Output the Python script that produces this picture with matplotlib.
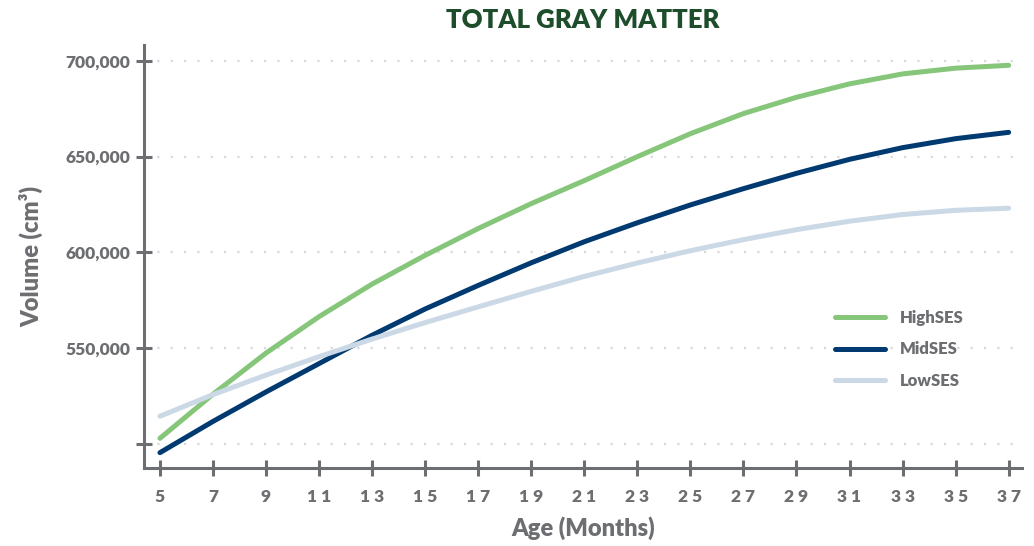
import matplotlib
matplotlib.use("Agg")
import matplotlib.pyplot as plt
from matplotlib.ticker import FuncFormatter

# age in months
months = [5, 7, 9, 11, 13, 15, 17, 19, 21, 23, 25, 27, 29, 31, 33, 35, 37]

high_ses = [503000, 526000, 547500, 566500, 583500, 598500, 612500, 625500, 637500,
            650000, 662000, 672500, 681000, 688000, 693200, 696200, 697700]
mid_ses = [495500, 511800, 527200, 542000, 556800, 570500, 582800, 594600, 605600,
           615500, 624800, 633300, 641300, 648600, 654700, 659400, 662700]
low_ses = [514500, 525800, 536000, 545600, 554800, 563400, 571600, 579700, 587500,
           594500, 600900, 606700, 611900, 616300, 619800, 622000, 623100]

series_names = ["HighSES", "MidSES", "LowSES"]
series_colors = ["#86c67a", "#003a70", "#cbd8e6"]

y_ticks = [500000, 550000, 600000, 650000, 700000]

gray = "#6d6e71"
plt.rcParams["font.family"] = ["Lato", "DejaVu Sans"]

fig = plt.figure(figsize=(10.34, 5.46), dpi=100)
ax = fig.add_axes([0.1393, 0.1429, 0.849, 0.7747])

for vals, name, col in zip([high_ses, mid_ses, low_ses], series_names, series_colors):
    ax.plot(months, vals, color=col, lw=3.6, solid_capstyle="round",
            solid_joinstyle="round", label=name, zorder=3)

ax.set_xlim(4.4, 37.5)
ax.set_ylim(487500, 708300)
ax.set_xticks(months)
ax.set_yticks(y_ticks)
ax.yaxis.set_major_formatter(FuncFormatter(lambda v, p: "" if v == 500000 else f"{int(v):,}"))
ax.set_xticklabels([" ".join(str(m)) for m in months])

for s in ["top", "right"]:
    ax.spines[s].set_visible(False)
for s in ["left", "bottom"]:
    ax.spines[s].set_color(gray)
    ax.spines[s].set_linewidth(2.2)

ax.tick_params(axis="both", direction="inout", length=12, width=2.2, color=gray,
               labelcolor=gray, labelsize=12.5)
ax.tick_params(axis="x", pad=9)
ax.tick_params(axis="y", pad=4)
for lab in ax.get_xticklabels() + ax.get_yticklabels():
    lab.set_fontweight("heavy")

ax.grid(axis="y", color="#d9d9d9", linestyle=(0, (1, 5)), linewidth=1.6)
ax.set_axisbelow(True)

ax.set_title("TOTAL GRAY MATTER", color="#1e4d2b", fontsize=18.5, fontweight="heavy", pad=12)
ax.set_xlabel("Age (Months)", color=gray, fontsize=17, fontweight="heavy", labelpad=8)
ax.set_ylabel("Volume (cm³)", color=gray, fontsize=17, fontweight="heavy", labelpad=16)

leg = ax.legend(loc="upper left", bbox_to_anchor=(0.77, 0.41), frameon=False,
                handlelength=3.0, handletextpad=0.9, labelspacing=0.95, fontsize=12)
for t in leg.get_texts():
    t.set_color(gray)
    t.set_fontweight("heavy")

fig.savefig("out.png", dpi=100)
